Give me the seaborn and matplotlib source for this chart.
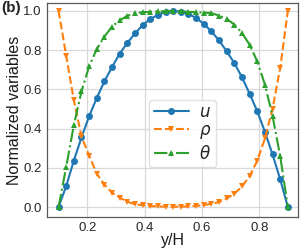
import matplotlib
matplotlib.use("Agg")
import matplotlib.pyplot as plt
import pandas as pd
import seaborn as sns

# y/H positions of the grid nodes
y_over_h = [0.1, 0.1267, 0.1533, 0.18, 0.2067, 0.2333, 0.26, 0.2867, 0.3133, 0.34,
            0.3667, 0.3933, 0.42, 0.4467, 0.4733, 0.5, 0.5267, 0.5533, 0.58, 0.6067,
            0.6333, 0.66, 0.6867, 0.7133, 0.74, 0.7667, 0.7933, 0.82, 0.8467, 0.8733, 0.9]

u_vals = [0.0, 0.107, 0.237, 0.355, 0.463, 0.556, 0.641, 0.714, 0.782, 0.837,
          0.885, 0.927, 0.958, 0.980, 0.995, 1.0, 0.995, 0.985, 0.963, 0.934,
          0.895, 0.849, 0.793, 0.734, 0.661, 0.577, 0.488, 0.383, 0.268, 0.141, 0.0]

rho_vals = [1.0, 0.771, 0.544, 0.36, 0.262, 0.170, 0.115, 0.073, 0.048, 0.027,
            0.015, 0.009, 0.005, 0.003, 0.002, 0.002, 0.002, 0.003, 0.006, 0.010,
            0.017, 0.025, 0.044, 0.068, 0.105, 0.158, 0.236, 0.35, 0.502, 0.709, 1.0]

theta_vals = [0.0, 0.205, 0.417, 0.590, 0.717, 0.805, 0.869, 0.920, 0.951, 0.975,
              0.988, 0.993, 0.995, 0.997, 0.998, 0.999, 0.997, 0.995, 0.993, 0.991,
              0.988, 0.976, 0.959, 0.930, 0.887, 0.827, 0.742, 0.624, 0.463, 0.259, 0.0]

series_names = [r'$u$', r'$\rho$', r'$\theta$']
colors = ['#1f77b4', '#ff7f0e', '#2ca02c']
markers = ['o', 'v', '^']
linestyles = ['-', '--', '-.']

df = pd.DataFrame({'y/H': y_over_h, 'u': u_vals, 'rho': rho_vals, 'theta': theta_vals})

sns.set_theme(style='whitegrid')
plt.rcParams['font.family'] = ['Liberation Sans', 'DejaVu Sans']

fig = plt.figure(figsize=(3.0, 2.49), dpi=100)
ax = fig.add_axes([0.157, 0.129, 0.836, 0.859])

for col, name, c, m, ls in zip(['u', 'rho', 'theta'], series_names, colors, markers, linestyles):
    sns.lineplot(data=df, x='y/H', y=col, ax=ax, color=c, marker=m, linestyle=ls,
                 markersize=5, markeredgewidth=0, linewidth=1.5, label=name)

ax.set_xticks([0.2, 0.4, 0.6, 0.8])
ax.set_yticks([0.0, 0.2, 0.4, 0.6, 0.8, 1.0])
ax.set_xlim(0.06, 0.935)
ax.set_ylim(-0.05, 1.04)
ax.tick_params(labelsize=9.5, length=2.5, width=0.8, colors='0.15', pad=1.5)
ax.set_xlabel('y/H', fontsize=11.5, labelpad=-1, color='0.1')
ax.set_ylabel('Normalized variables', fontsize=11.5, labelpad=1, color='0.1')
ax.grid(True, color='0.85', linewidth=0.9)
for s in ax.spines.values():
    s.set_color('0.35')
    s.set_linewidth(0.9)

leg = ax.legend(loc='center', bbox_to_anchor=(0.54, 0.39), fontsize=12,
                handlelength=2.1, handletextpad=0.6, borderpad=0.3,
                labelspacing=0.2, borderaxespad=0, frameon=True)
leg.get_frame().set_edgecolor('0.85')

fig.text(0.005, 0.995, '(b)', fontsize=11, fontweight='bold', va='top', ha='left')

fig.savefig('out.png', dpi=100)
